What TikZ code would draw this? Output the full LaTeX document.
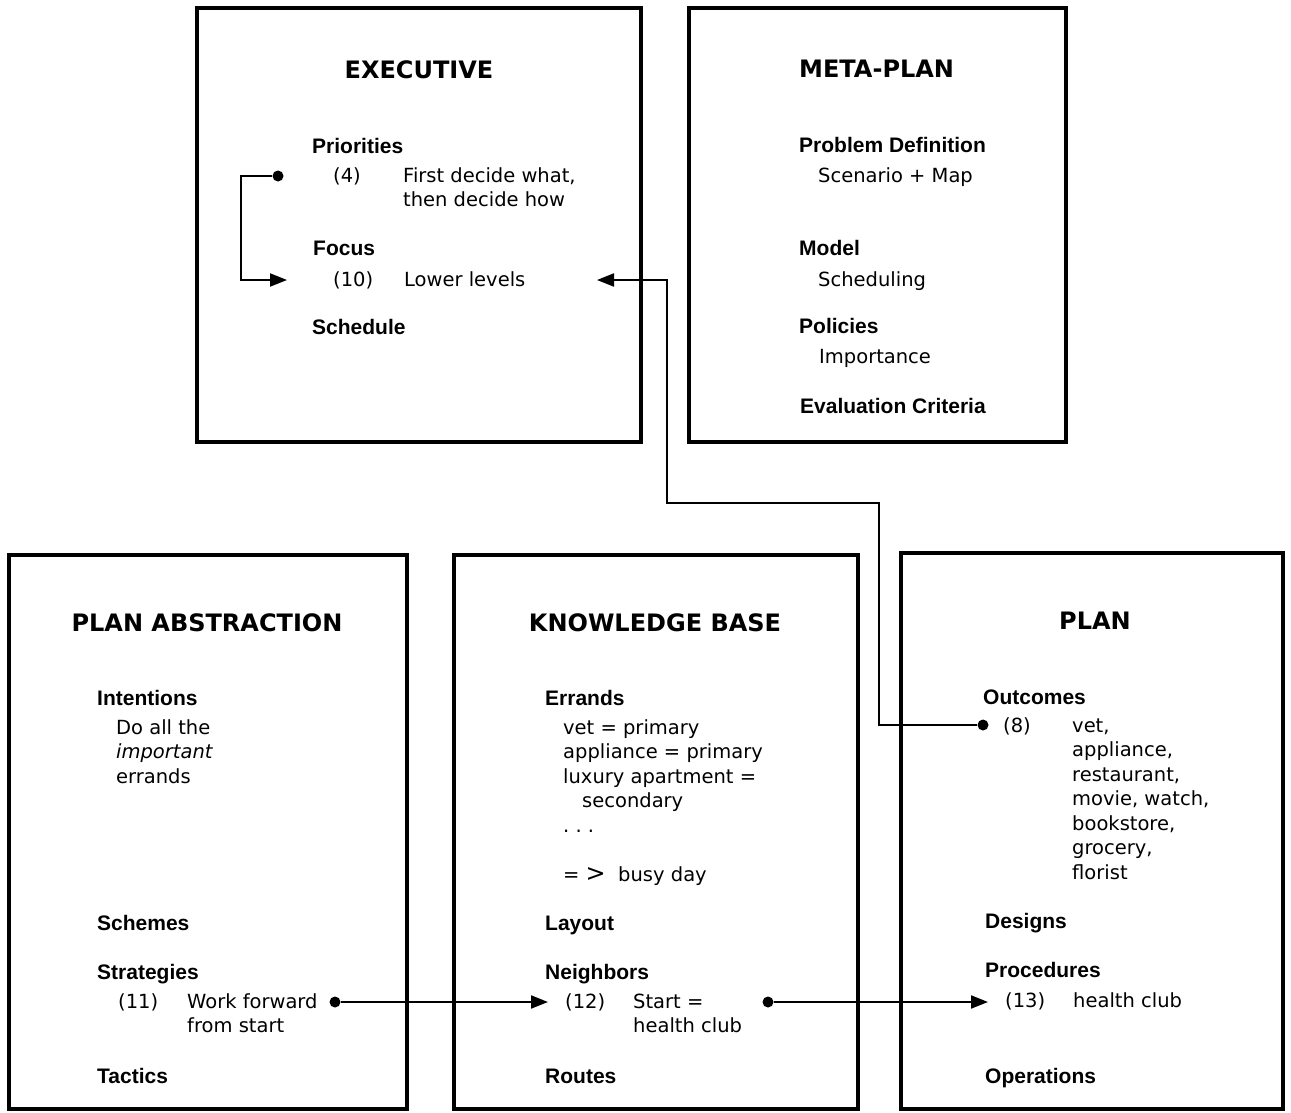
\documentclass[tikz,border=0pt]{standalone}
\usepackage{fontspec}
\setmainfont{DejaVu Sans}
\newfontfamily\headfont{Liberation Sans}
\usetikzlibrary{shapes,arrows.meta,positioning}

\begin{document}
\begin{tikzpicture}[
    x=1pt, y=-1pt,
    panel/.style={rectangle, draw=black, line width=4pt, outer sep=0pt, inner sep=0pt, anchor=north west},
    title/.style={font=\bfseries\fontsize{24}{28}\selectfont, anchor=base, inner sep=0pt},
    head/.style={font=\headfont\bfseries\fontsize{21}{24}\selectfont, anchor=base west, inner sep=0pt},
    txt/.style={font=\fontsize{19.5}{24.5}\selectfont, anchor=base west, inner sep=0pt, align=left},
    dot/.style={circle, fill=black, inner sep=0pt, minimum size=11pt},
    arrow/.style={line width=2pt, -{Triangle[length=17pt, width=13pt]}}
]
\useasboundingbox (0,0) rectangle (1291,1112);
% Boxes (top row, then bottom row)
\node[panel, minimum width=444pt, minimum height=434pt] (exec) at (197,8) {};
\node[panel, minimum width=377pt, minimum height=434pt] (meta) at (689,8) {};
\node[panel, minimum width=398pt, minimum height=554pt] (abst) at (9,555) {};
\node[panel, minimum width=404pt, minimum height=554pt] (know) at (454,555) {};
\node[panel, minimum width=382pt, minimum height=556pt] (plan) at (901,553) {};
% Executive (multi-line texts sit on their last line)
\node[title] (execT) at (419,78) {EXECUTIVE};
\node[head] (prio) at (312,153) {Priorities};
\node[txt] (n4) at (333,182) {(4)};
\node[txt] (what) at (403,206.5) {First decide what,\\then decide how};
\node[head] (focus) at (313,255) {Focus};
\node[txt] (n10) at (333,286) {(10)};
\node[txt] (lower) at (404,286) {Lower levels};
\node[head] (sched) at (312,334) {Schedule};
% Meta-plan
\node[title, anchor=base west] (metaT) at (799,77) {META-PLAN};
\node[head] (probdef) at (799,152) {Problem Definition};
\node[txt] (scen) at (818,182) {Scenario + Map};
\node[head] (model) at (799,255) {Model};
\node[txt] (schedl) at (818,286) {Scheduling};
\node[head] (polic) at (799,333) {Policies};
\node[txt] (import) at (819,363) {Importance};
\node[head] (evalc) at (800,413) {Evaluation Criteria};
% Plan abstraction
\node[title] (abstT) at (207,631) {PLAN ABSTRACTION};
\node[head] (intent) at (97,705) {Intentions};
\node[txt] (doall) at (116,783) {Do all the\\{\itshape important}\\errands};
\node[head] (schemes) at (97,930) {Schemes};
\node[head] (strat) at (97,979) {Strategies};
\node[txt] (n11) at (118,1008) {(11)};
\node[txt] (workf) at (187,1032.5) {Work forward\\from start};
\node[head] (tact) at (97,1083) {Tactics};
% Knowledge base
\node[title] (knowT) at (655,631) {KNOWLEDGE BASE};
\node[head] (errands) at (545,705) {Errands};
\node[txt] (errlist) at (563,832) {vet = primary\\appliance = primary\\luxury apartment =\\\hspace*{19pt}secondary\\.\ .\ .};
\node[txt] (busy) at (563,881) {= {\fontsize{24}{24}\selectfont >}\ \ busy day};
\node[head] (layout) at (545,930) {Layout};
\node[head] (neigh) at (545,979) {Neighbors};
\node[txt] (n12) at (565,1008) {(12)};
\node[txt] (start) at (633,1032.5) {Start =\\health club};
\node[head] (routes) at (545,1083) {Routes};
% Plan
\node[title] (planT) at (1095,629) {PLAN};
\node[head] (outc) at (983,704) {Outcomes};
\node[txt] (n8) at (1003,732) {(8)};
\node[txt] (outlist) at (1072,879) {vet,\\appliance,\\restaurant,\\movie, watch,\\bookstore,\\grocery,\\florist};
\node[head] (designs) at (985,928) {Designs};
\node[head] (proced) at (985,977) {Procedures};
\node[txt] (n13) at (1005,1007) {(13)};
\node[txt] (hclub) at (1073,1007) {health club};
\node[head] (operat) at (985,1083) {Operations};
% Connectors
\node[dot] (d4) at (278,176) {};
\coordinate (a10) at (287,280);
\draw[arrow] (d4) -- ++(-37,0) |- (a10);
\node[dot] (d8) at (983,725) {};
\coordinate (a10b) at (597,280);
\draw[arrow] (d8) -- (879,725) |- (667,503) |- (a10b);
\node[dot] (d11) at (335,1002) {};
\coordinate (a12) at (548,1002);
\draw[arrow] (d11) -- (a12);
\node[dot] (d12) at (768,1002) {};
\coordinate (a13) at (988,1002);
\draw[arrow] (d12) -- (a13);
\end{tikzpicture}
\end{document}
